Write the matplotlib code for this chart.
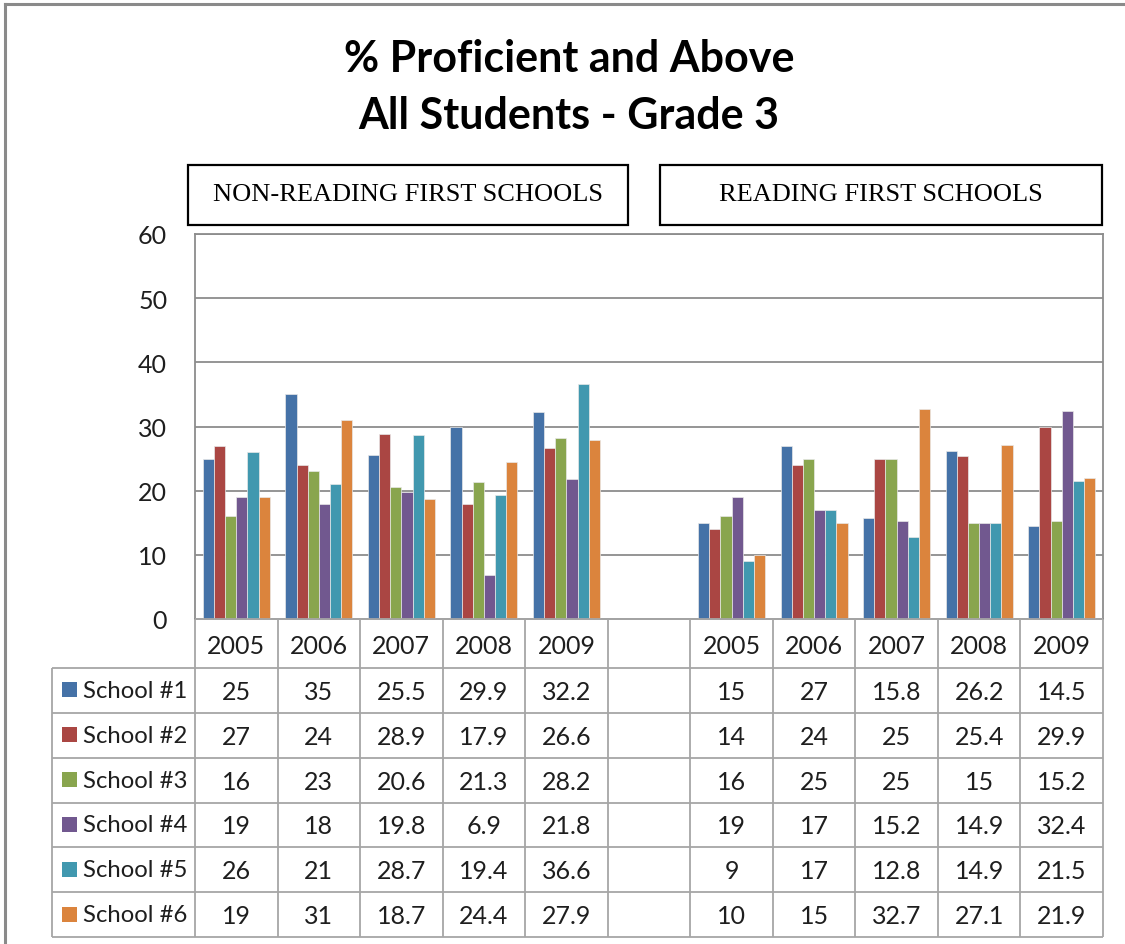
import matplotlib.pyplot as plt
from matplotlib.patches import Rectangle
from matplotlib.lines import Line2D

# categories: two blocks of years, with an empty slot between them
categories = ["2005", "2006", "2007", "2008", "2009", "",
              "2005", "2006", "2007", "2008", "2009"]

school_1 = [25, 35, 25.5, 29.9, 32.2, None, 15, 27, 15.8, 26.2, 14.5]
school_2 = [27, 24, 28.9, 17.9, 26.6, None, 14, 24, 25, 25.4, 29.9]
school_3 = [16, 23, 20.6, 21.3, 28.2, None, 16, 25, 25, 15, 15.2]
school_4 = [19, 18, 19.8, 6.9, 21.8, None, 19, 17, 15.2, 14.9, 32.4]
school_5 = [26, 21, 28.7, 19.4, 36.6, None, 9, 17, 12.8, 14.9, 21.5]
school_6 = [19, 31, 18.7, 24.4, 27.9, None, 10, 15, 32.7, 27.1, 21.9]

series_names = ["School #1", "School #2", "School #3",
                "School #4", "School #5", "School #6"]
series = [school_1, school_2, school_3, school_4, school_5, school_6]
colors = ["#4572A7", "#AA4643", "#89A54E", "#71588F", "#4198AF", "#DB843D"]

group_labels = ["NON-READING FIRST SCHOOLS", "READING FIRST SCHOOLS"]
yticks = [0, 10, 20, 30, 40, 50, 60]

W, H = 1125, 945
SANS = ["Lato", "DejaVu Sans"]
GRID = "#8c8c8c"
TABLE_LINE = "#a6a6a6"
TXT = "#1e1e1e"
FS = 18


def fx(px):
    return px / W


def fy(py):
    return 1 - py / H


fig = plt.figure(figsize=(W / 100, H / 100), dpi=100)

# outer frame (top and left edges only visible)
fig.add_artist(Line2D([fx(5), 1], [fy(5), fy(5)], color="#8a8a8a", lw=2.2))
fig.add_artist(Line2D([fx(5), fx(5)], [fy(5), 0], color="#8a8a8a", lw=2.2))

# title
fig.text(fx(569), fy(59), "% Proficient and Above", ha="center", va="center",
         fontsize=31, fontweight="bold", family=SANS)
fig.text(fx(569), fy(116), "All Students - Grade 3", ha="center", va="center",
         fontsize=31, fontweight="bold", family=SANS)

# group label boxes
for (x0, x1), label in zip([(188, 628), (660, 1102)], group_labels):
    fig.add_artist(Rectangle((fx(x0), fy(226)), (x1 - x0) / W, 60 / H,
                             transform=fig.transFigure, fill=False,
                             edgecolor="black", lw=1.6))
    fig.text(fx((x0 + x1) / 2), fy(195), label, ha="center", va="center",
             fontsize=19, family="Liberation Serif")

# bar chart
ax = fig.add_axes([fx(195), fy(620), (1103 - 195) / W, (620 - 235) / H])
n = len(series)
group_w = 0.81
bw = group_w / n
for i, (vals, name, c) in enumerate(zip(series, series_names, colors)):
    xs = [k + (i - (n - 1) / 2) * bw for k, v in enumerate(vals) if v is not None]
    hs = [v for v in vals if v is not None]
    ax.bar(xs, hs, width=bw, color=c, edgecolor="#e8e8e8", linewidth=0.5,
           label=name, zorder=3)

ax.set_xlim(-0.5, len(categories) - 0.5)
ax.set_ylim(0, 60)
ax.set_yticks(yticks)
ax.set_xticks([])
ax.yaxis.grid(True, color=GRID, lw=1.3, zorder=0)
ax.tick_params(axis="y", length=0, pad=20, labelsize=FS, labelcolor=TXT)
for lab in ax.get_yticklabels():
    lab.set_family(SANS)
for sp in ax.spines.values():
    sp.set_color(GRID)
    sp.set_linewidth(1.3)

# data table below the plot
unit = (1103 - 195) / len(categories)
label_w = (195 - 52) / unit
xl = -0.5 - label_w
xr = len(categories) - 0.5
tb = fig.add_axes([fx(52), fy(938), (1103 - 52) / W, (938 - 620) / H])
tb.set_xlim(xl, xr)
tb.set_ylim(938, 620)
tb.axis("off")

head_top, head_bot, bottom = 620, 669, 938
row_h = (bottom - head_bot) / n
edges = [head_bot + k * row_h for k in range(n + 1)]

lk = dict(color=TABLE_LINE, lw=1.3, clip_on=False, solid_capstyle="butt")
tb.plot([-0.5, xr], [head_top, head_top], **lk)
for y in edges:
    tb.plot([xl, xr], [y, y], **lk)
for k in range(len(categories) + 1):
    tb.plot([k - 0.5, k - 0.5], [head_top, bottom], **lk)
tb.plot([xl, xl], [head_bot, bottom], **lk)

txt = dict(ha="center", va="center", fontsize=FS, color=TXT, family=SANS)
for k, cat in enumerate(categories):
    tb.text(k, (head_top + head_bot) / 2 + 2, cat, **txt)

for r, (vals, name, c) in enumerate(zip(series, series_names, colors)):
    yc = (edges[r] + edges[r + 1]) / 2
    tb.add_patch(Rectangle((xl + 10 / unit, yc - 8), 15 / unit, 15,
                           facecolor=c, edgecolor="none"))
    tb.text(xl + 31 / unit, yc, name, ha="left", va="center", fontsize=17.2,
            color=TXT, family=SANS)
    for k, v in enumerate(vals):
        if v is not None:
            tb.text(k, yc + 1, f"{v:g}", **txt)

fig.savefig("out.png", dpi=100)
